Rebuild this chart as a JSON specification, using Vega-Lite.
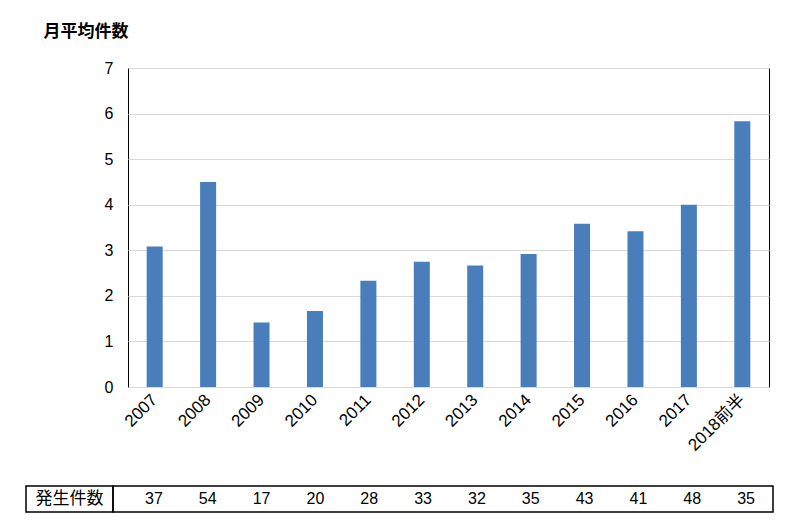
{
  "$schema": "https://vega.github.io/schema/vega-lite/v6.json",
  "padding": {"left": 25, "top": 21, "right": 5, "bottom": 5},
  "spacing": 31,
  "config": {
    "font": "Liberation Sans, Noto Sans CJK JP",
    "view": {"stroke": null}
  },
  "datasets": {
    "main": [
      {"year": "2007", "avg": 3.083, "count": 37},
      {"year": "2008", "avg": 4.5, "count": 54},
      {"year": "2009", "avg": 1.417, "count": 17},
      {"year": "2010", "avg": 1.667, "count": 20},
      {"year": "2011", "avg": 2.333, "count": 28},
      {"year": "2012", "avg": 2.75, "count": 33},
      {"year": "2013", "avg": 2.667, "count": 32},
      {"year": "2014", "avg": 2.917, "count": 35},
      {"year": "2015", "avg": 3.583, "count": 43},
      {"year": "2016", "avg": 3.417, "count": 41},
      {"year": "2017", "avg": 4.0, "count": 48},
      {"year": "2018前半", "avg": 5.833, "count": 35}
    ]
  },
  "vconcat": [
    {
      "bounds": "flush",
      "spacing": 0,
      "hconcat": [
        {
          "width": 102,
          "height": 319,
          "data": {"values": [{"t": ""}]},
          "mark": {"type": "text"},
          "encoding": {"text": {"field": "t"}}
        },
        {
          "width": 641,
          "height": 319,
          "view": {"stroke": "#000000", "strokeWidth": 1},
          "data": {"name": "main"},
          "mark": {"type": "bar", "color": "#4a7ebb"},
          "encoding": {
            "x": {
              "field": "year",
              "type": "nominal",
              "sort": null,
              "scale": {"paddingInner": 0.7, "paddingOuter": 0.35},
              "axis": {
                "title": null,
                "labelAngle": -45,
                "labelAlign": "right",
                "labelBaseline": "middle",
                "ticks": false,
                "tickSize": 0,
                "domain": false,
                "labelFontSize": 17,
                "labelColor": "#000000",
                "labelPadding": 10
              }
            },
            "y": {
              "field": "avg",
              "type": "quantitative",
              "scale": {"domain": [0, 7], "nice": false},
              "axis": {
                "values": [0, 1, 2, 3, 4, 5, 6, 7],
                "grid": true,
                "gridColor": "#d9d9d9",
                "ticks": false,
                "tickSize": 0,
                "domain": false,
                "labelFontSize": 16,
                "labelColor": "#000000",
                "labelPadding": 15,
                "title": "月平均件数",
                "titleAngle": 0,
                "titleAlign": "left",
                "titleBaseline": "top",
                "titleX": -85,
                "titleY": -45,
                "titleFontSize": 17,
                "titleFontWeight": "bold",
                "titleColor": "#000000",
                "titleFont": "Noto Sans CJK JP"
              }
            }
          }
        }
      ]
    },
    {
      "bounds": "flush",
      "spacing": 0,
      "hconcat": [
        {
          "width": 87,
          "height": 26,
          "view": {"stroke": "#000000", "strokeWidth": 1.5},
          "data": {"values": [{"label": "発生件数"}]},
          "mark": {"type": "text", "fontSize": 17, "font": "Noto Sans CJK JP", "color": "#000000"},
          "encoding": {"text": {"field": "label"}}
        },
        {
          "width": 660,
          "height": 26,
          "view": {"stroke": "#000000", "strokeWidth": 1.5},
          "data": {"name": "main"},
          "mark": {"type": "text", "fontSize": 16, "color": "#000000"},
          "encoding": {
            "x": {
              "field": "year",
              "type": "nominal",
              "sort": null,
              "scale": {"range": [14, 660], "paddingInner": 0, "paddingOuter": 0},
              "axis": null
            },
            "text": {"field": "count", "type": "quantitative"}
          }
        }
      ]
    }
  ]
}
